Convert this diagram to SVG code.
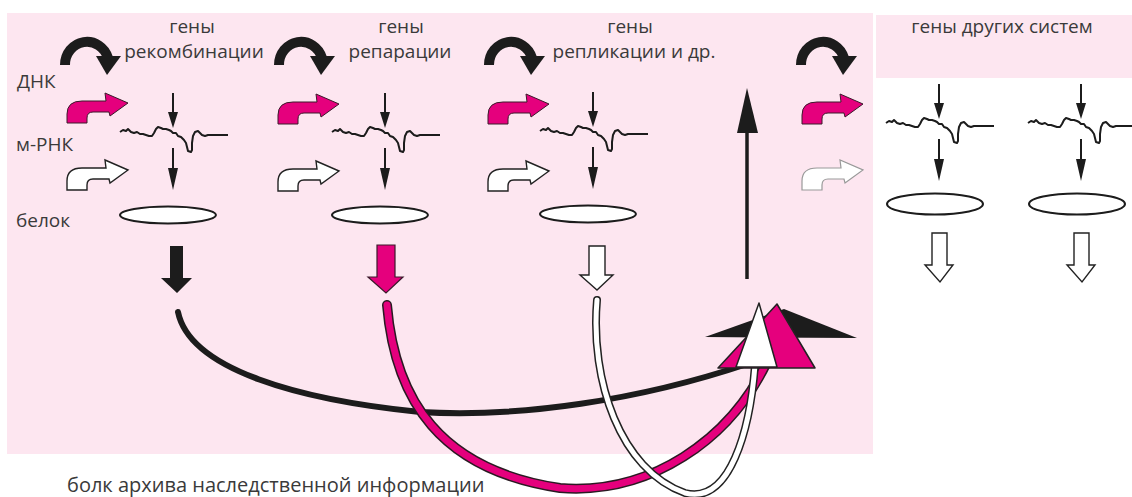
<svg xmlns="http://www.w3.org/2000/svg" xmlns:xlink="http://www.w3.org/1999/xlink" width="1132" height="497" viewBox="0 0 1132 497">
<style>
  .lbl { font-family: "Open Sans", "Liberation Sans", sans-serif; font-size: 19px; fill: #3a3a3a; }
  .mid { text-anchor: middle; }
  .bg { fill: #fde6f0; }
  .blk { fill: #1c1c1c; }
  .mag { fill: #e5007d; stroke: #3a1a2a; stroke-width: 1.2; }
  .wht { fill: #ffffff; stroke: #222; stroke-width: 1.4; }
  .whtl { fill: #ffffff; stroke: #999; stroke-width: 1.2; }
  .thin { stroke: #1c1c1c; stroke-width: 2; fill: none; }
  .wave { stroke: #1c1c1c; stroke-width: 2; fill: none; stroke-linejoin: round; }
  .ell { fill: #ffffff; stroke: #1c1c1c; stroke-width: 2; }
</style>
<defs>
  <g id="rot">
    <path d="M65,65 A22,23 0 0 1 108,58" fill="none" stroke="#1c1c1c" stroke-width="10"/>
    <polygon points="96,56 121,56 107,75" fill="#1c1c1c"/>
  </g>
  <path id="bent" d="M67,123 L67,114 Q67,101 82,101 L106,101 L105,93 L128,103 L110,116 L109,112 L93,112 Q87,112 87,118 L87,123 Z"/>
  <g id="down1">
    <line x1="173" y1="93" x2="173" y2="113" class="thin"/>
    <polygon points="168,112 178,112 173,128" fill="#1c1c1c"/>
  </g>
  <g id="down2">
    <line x1="173" y1="148" x2="173" y2="170" class="thin"/>
    <polygon points="168,168 178,168 173,190" fill="#1c1c1c"/>
  </g>
  <polyline id="mrna" class="wave" points="120,132 123,130 126,131 128,129 131,132 134,133 137,132 140,134 143,134 146,135 149,136 152,136 154,133 156,129 158,127 161,128 163,129 166,129 169,130 171,131 173,133 176,133 178,136 181,137 184,140 186,143 187,147 188,151 191,152 192,150 192,143 193,136 195,132 198,131 200,133 202,135 205,136 208,135 212,135 228,135"/>
  <ellipse id="prot" cx="168" cy="215" rx="48" ry="8.5" class="ell"/>
  <path id="hollow" d="M932,233 L947,233 L947,265 L953,265 L940,282 L925,265 L932,265 Z"/>
  <path id="cMag" d="M387,305 C395,400 440,470 560,488 C650,495 730,440 767,362"/>
  <path id="cWht" d="M597,300 C590,380 620,470 685,493 C730,505 750,430 755,365"/>
</defs>

<!-- backgrounds -->
<rect class="bg" x="7" y="13" width="866" height="441"/>
<rect class="bg" x="876" y="15" width="256" height="63"/>

<!-- left row labels -->
<g id="row-labels">
  <text class="lbl" x="17" y="88">ДНК</text>
  <text class="lbl" x="16" y="151">м-РНК</text>
  <text class="lbl" x="16" y="227">белок</text>
</g>

<!-- group 1: recombination -->
<g id="genes-recombination">
  <text class="lbl mid" x="192" y="33">гены</text>
  <text class="lbl mid" x="194" y="58">рекомбинации</text>
  <use xlink:href="#rot"/>
  <use xlink:href="#bent" fill="#e5007d" stroke="#3a1a2a" stroke-width="1"/>
  <use xlink:href="#bent" transform="translate(0,67)" fill="#ffffff" stroke="#222" stroke-width="1.4"/>
  <use xlink:href="#down1"/>
  <use xlink:href="#mrna"/>
  <use xlink:href="#down2"/>
  <use xlink:href="#prot"/>
  <polygon class="blk" points="170,246 183,246 183,278 192,278 177,293 161,278 170,278"/>
</g>

<!-- group 2: repair -->
<g id="genes-repair">
  <text class="lbl mid" x="401" y="33">гены</text>
  <text class="lbl mid" x="400" y="58">репарации</text>
  <use xlink:href="#rot" transform="translate(214,0)"/>
  <use xlink:href="#bent" transform="translate(211,1)" fill="#e5007d" stroke="#3a1a2a" stroke-width="1"/>
  <use xlink:href="#bent" transform="translate(211,68)" fill="#ffffff" stroke="#222" stroke-width="1.4"/>
  <g transform="translate(212,0)">
    <use xlink:href="#down1"/>
    <use xlink:href="#mrna"/>
    <use xlink:href="#down2"/>
    <use xlink:href="#prot"/>
  </g>
  <polygon class="mag" points="377,245 395,245 395,277 403,277 386,293 368,277 377,277"/>
</g>

<!-- group 3: replication -->
<g id="genes-replication">
  <text class="lbl mid" x="630" y="33">гены</text>
  <text class="lbl mid" x="634" y="58">репликации и др.</text>
  <use xlink:href="#rot" transform="translate(424,0)"/>
  <use xlink:href="#bent" transform="translate(421,1)" fill="#e5007d" stroke="#3a1a2a" stroke-width="1"/>
  <use xlink:href="#bent" transform="translate(421,68)" fill="#ffffff" stroke="#222" stroke-width="1.4"/>
  <g transform="translate(420,-1)">
    <use xlink:href="#down1"/>
    <use xlink:href="#mrna"/>
    <use xlink:href="#down2"/>
    <use xlink:href="#prot"/>
  </g>
  <polygon class="wht" points="589,246 605,246 605,275 613,275 597,290 580,275 589,275"/>
</g>

<!-- group 4: control of other systems -->
<g id="control-other">
  <use xlink:href="#rot" transform="translate(736,0)"/>
  <use xlink:href="#bent" transform="translate(735,1)" fill="#e5007d" stroke="#3a1a2a" stroke-width="1"/>
  <use xlink:href="#bent" transform="translate(735,67)" fill="#ffffff" stroke="#999" stroke-width="1.2"/>
</g>

<!-- other systems -->
<g id="genes-other">
  <text class="lbl mid" x="1002" y="33">гены других систем</text>
</g>
<g id="other-1">
  <g transform="translate(766,-9)">
    <use xlink:href="#down1"/>
    <use xlink:href="#mrna"/>
    <use xlink:href="#down2"/>
  </g>
  <ellipse cx="935" cy="204" rx="48" ry="10.5" class="ell"/>
  <use xlink:href="#hollow" fill="#ffffff" stroke="#222" stroke-width="1.4"/>
</g>
<g id="other-2">
  <g transform="translate(908,-9)">
    <use xlink:href="#down1"/>
    <use xlink:href="#mrna"/>
    <use xlink:href="#down2"/>
  </g>
  <ellipse cx="1077" cy="204" rx="48" ry="10.5" class="ell"/>
  <use xlink:href="#hollow" transform="translate(142,0)" fill="#ffffff" stroke="#222" stroke-width="1.4"/>
</g>

<!-- connectors -->
<g id="connectors">
  <path d="M178,312 C190,370 300,400 420,412 C520,418 640,400 747,364" fill="none" stroke="#1c1c1c" stroke-width="6" stroke-linecap="round"/>
  <use xlink:href="#cMag" fill="none" stroke="#2a1a22" stroke-width="10" stroke-linecap="round"/>
  <use xlink:href="#cMag" fill="none" stroke="#e5007d" stroke-width="7" stroke-linecap="round"/>
  <use xlink:href="#cWht" fill="none" stroke="#222" stroke-width="8" stroke-linecap="round"/>
  <use xlink:href="#cWht" fill="none" stroke="#ffffff" stroke-width="5" stroke-linecap="round"/>
  <line x1="747" y1="130" x2="747" y2="279" stroke="#1c1c1c" stroke-width="3.5"/>
  <polygon points="737,133 758,133 747,88" fill="#1c1c1c"/>
  <polygon points="705,337 784,309 857,338" fill="#1c1c1c"/>
  <polygon points="777,304 718,368 815,368" fill="#e5007d" stroke="#222" stroke-width="1.5" stroke-linejoin="round"/>
  <polygon points="759,303 736,367 777,367" fill="#ffffff" stroke="#222" stroke-width="1.5" stroke-linejoin="round"/>
</g>

<g id="caption">
  <text x="67" y="492" font-family="'Open Sans', 'Liberation Sans', sans-serif" font-size="20" fill="#3a3a3a">болк архива наследственной информации</text>
</g>
</svg>
